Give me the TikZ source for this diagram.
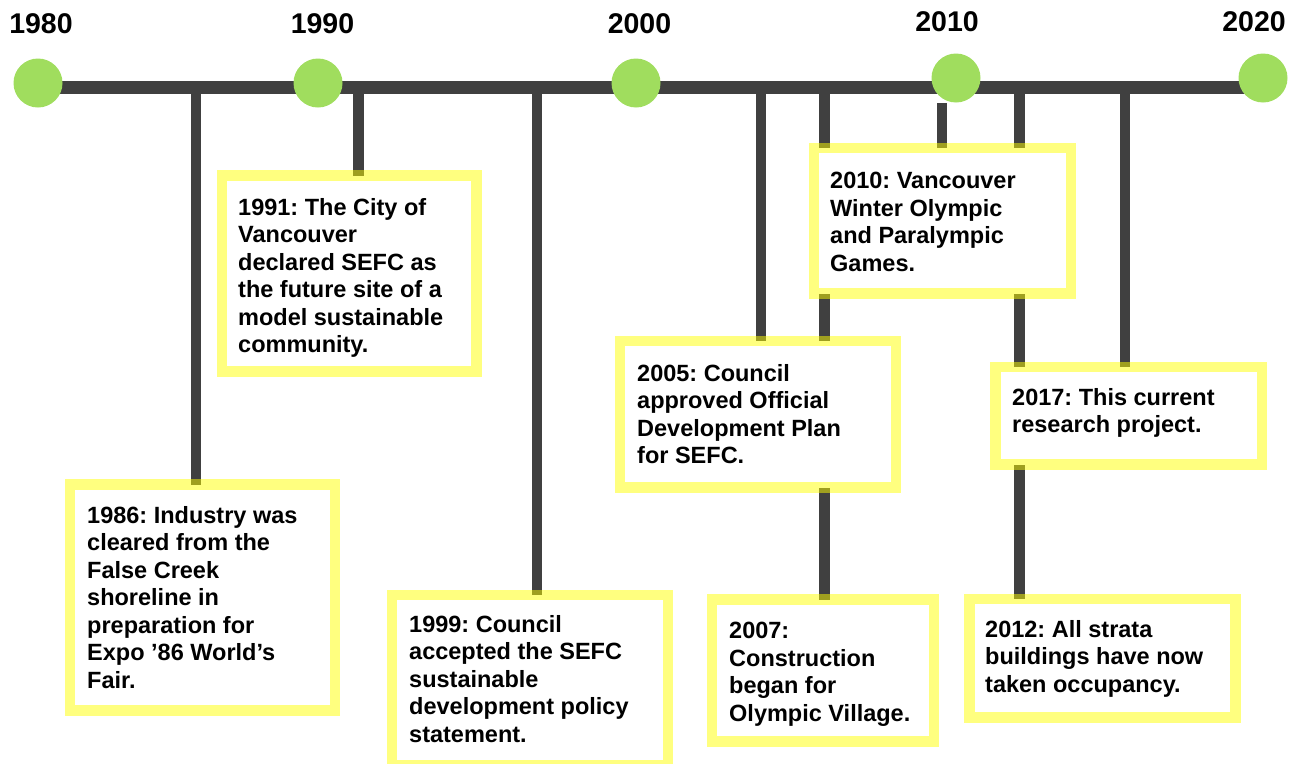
\documentclass[tikz,border=0pt]{standalone}
\usepackage{fontspec}
\setmainfont{Liberation Sans}
\frenchspacing
\pgfdeclarelayer{bg}
\pgfsetlayers{bg,main}
\definecolor{linegray}{RGB}{64,64,64}
\definecolor{dotgreen}{RGB}{160,221,94}
\definecolor{boxyellow}{RGB}{255,255,0}
\tikzset{
  mainline/.style={draw=linegray, line width=13.5pt},
  stem/.style={draw=linegray, line width=10.5pt},
  dot/.style={circle, fill=dotgreen, minimum size=49pt, inner sep=0pt},
  year/.style={anchor=north, inner sep=0pt, font=\fontsize{28.5}{30}\selectfont\bfseries},
  evbox/.style={rectangle, anchor=north west, inner sep=0pt, outer sep=0pt, fill=white,
     draw=boxyellow, draw opacity=0.5, line width=10.5pt},
  evtext/.style={anchor=north west, inner sep=0pt, align=left,
     font=\fontsize{23.5}{27.5}\selectfont\bfseries\frenchspacing}
}
\begin{document}
\begin{tikzpicture}[x=1pt,y=-1pt]
\useasboundingbox (0,0) rectangle (1295,763);

% circles and years
\node[dot] (c1980) at (38,83) {};
\node[dot] (c1990) at (318,83) {};
\node[dot] (c2000) at (636,83) {};
\node[dot] (c2010) at (956,78) {};
\node[dot] (c2020) at (1263,78) {};
\node[year] (y1980) at (41,13) {1980};
\node[year] (y1990) at (322.5,13) {1990};
\node[year] (y2000) at (639.5,13) {2000};
\node[year] (y2010) at (947,11) {2010};
\node[year] (y2020) at (1254,11) {2020};

% event boxes
\node[evbox, minimum width=265pt, minimum height=226pt] (b1986) at (70,484.5) {};
\node[evbox, minimum width=254.5pt, minimum height=196pt] (b1991) at (222,175.5) {};
\node[evbox, minimum width=276pt, minimum height=170pt] (b1999) at (392,595) {};
\node[evbox, minimum width=276pt, minimum height=146.5pt] (b2005) at (620,341) {};
\node[evbox, minimum width=222pt, minimum height=142pt] (b2007) at (712,599.5) {};
\node[evbox, minimum width=257pt, minimum height=145.5pt] (b2010) at (814,148) {};
\node[evbox, minimum width=266.5pt, minimum height=97.5pt] (b2017) at (995.5,367) {};
\node[evbox, minimum width=266pt, minimum height=118.5pt] (b2012) at (969.5,599) {};

% texts
\node[evtext] (x1986) at (87,506) {1986: Industry was\\cleared from the\\False Creek\\shoreline in\\preparation for\\Expo ’86 World’s\\Fair.};
\node[evtext] (x1991) at (238,198) {1991: The City of\\Vancouver\\declared SEFC as\\the future site of a\\model sustainable\\community.};
\node[evtext] (x1999) at (409,615) {1999: Council\\accepted the SEFC\\sustainable\\development policy\\statement.};
\node[evtext] (x2005) at (637,364) {2005: Council\\approved Official\\Development Plan\\for SEFC.};
\node[evtext] (x2007) at (729,622) {2007:\\Construction\\began for\\Olympic Village.};
\node[evtext] (x2010) at (830,172) {2010: Vancouver\\Winter Olympic\\and Paralympic\\Games.};
\node[evtext] (x2017) at (1012,388) {2017: This current\\research project.};
\node[evtext] (x2012) at (985,620) {2012: All strata\\buildings have now\\taken occupancy.};

% main line and stems (behind)
\coordinate (L) at (38,87.5);
\coordinate (R) at (1263,87.5);
\coordinate (t1986) at (196,87.5);
\coordinate (t1991) at (358.5,87.5);
\coordinate (t1999) at (537,87.5);
\coordinate (t2005) at (761,87.5);
\coordinate (t2007) at (824.5,87.5);
\coordinate (t2010) at (942,103);
\coordinate (t2012) at (1019.5,87.5);
\coordinate (t2017) at (1125,87.5);
\begin{pgfonlayer}{bg}
\draw[mainline] (L) -- (R);
\draw[stem] (t1986) -- (t1986 |- b1986.center);
\draw[stem] (t1991) -- (t1991 |- b1991.center);
\draw[stem] (t1999) -- (t1999 |- b1999.center);
\draw[stem] (t2005) -- (t2005 |- b2005.center);
\draw[stem] (t2007) -- (t2007 |- b2007.center);
\draw[stem] (t2010) -- (t2010 |- b2010.center);
\draw[stem] (t2012) -- (t2012 |- b2012.center);
\draw[stem] (t2017) -- (t2017 |- b2017.center);
\end{pgfonlayer}
\end{tikzpicture}
\end{document}
